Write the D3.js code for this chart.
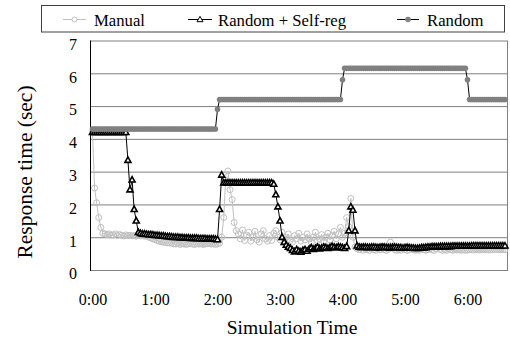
<!DOCTYPE html>
<html><head><meta charset="utf-8">
<script src="https://cdn.jsdelivr.net/npm/d3@7/dist/d3.min.js"></script>
<style>
html,body{margin:0;padding:0;background:#fff;}
svg{display:block;}
text{font-family:"Liberation Serif","Times New Roman",serif;fill:#000;}
</style></head>
<body>
<svg id="chart" width="510" height="338"></svg>
<script>
// ---- data (one sample every 2 minutes of simulation time) ----
const sampleMinutes = 2;
const seriesNames = ["Manual", "Random + Self-reg", "Random"];
const xTickMinutes = [0, 60, 120, 180, 240, 300, 360];
const xTickLabels = ["0:00", "1:00", "2:00", "3:00", "4:00", "5:00", "6:00"];
const yTicks = [0, 1, 2, 3, 4, 5, 6, 7];

const manual = [
  4.2, 2.5, 2.05, 1.6, 1.3, 1.12,
  1.1, 1.08, 1.1, 1.06, 1.07, 1.1, 1.05, 1.08, 1.06, 1.04, 1.07, 1.05, 1.06, 1.04, 1.05, 1.03, 1.06, 1.04, 1.05, 1.03, 1.04,
  1.0, 0.98, 0.95, 0.93, 0.9, 0.88, 0.86, 0.85, 0.84, 0.83, 0.82,
  0.82, 0.8, 0.79, 0.81, 0.78, 0.8, 0.79, 0.78, 0.8, 0.81, 0.79, 0.78, 0.8, 0.79, 0.8, 0.78, 0.79, 0.8, 0.81, 0.79, 0.8, 0.78, 0.8, 0.82,
  1.0, 1.6, 2.9, 3.02, 2.45, 2.15, 1.45, 1.2,
  1.1, 0.95, 1.22, 0.9, 1.05, 1.15, 0.88, 1.0, 1.18, 0.92,
  0.85, 1.1, 1.2, 0.95, 0.88, 1.05, 0.9, 1.12, 1.2, 1.0,
  0.92, 1.15, 0.95, 1.0, 1.1, 0.9, 0.85, 1.05, 0.95, 1.12,
  0.88, 1.0, 0.92, 1.1, 0.95, 0.85, 1.0, 1.15, 0.9, 0.95,
  1.08, 0.88, 1.0, 1.12, 0.92, 1.05, 1.18, 0.95, 1.1,
  1.3, 1.0, 1.12, 1.6, 1.32, 2.18, 1.0, 0.7,
  0.65, 0.62, 0.7, 0.6, 0.63, 0.62, 0.6, 0.66, 0.62, 0.6,
  0.65, 0.62, 0.72, 0.62, 0.6, 0.63, 0.85, 0.7, 0.62, 0.6,
  0.62, 0.6, 0.64, 0.62, 0.6, 0.62, 0.7, 0.62, 0.6, 0.62,
  0.6, 0.65, 0.62, 0.6, 0.62, 0.66, 0.62, 0.6, 0.65, 0.7,
  0.63, 0.6, 0.62, 0.6, 0.64, 0.62, 0.6, 0.62, 0.61, 0.62,
  0.6, 0.62, 0.6, 0.61, 0.62, 0.62, 0.61, 0.62, 0.62, 0.61,
  0.62, 0.62, 0.62, 0.61, 0.62, 0.62, 0.62, 0.62, 0.62, 0.62,
  0.62, 0.62
];

const randomSelfReg = [
  4.2, 4.2, 4.2, 4.2, 4.2, 4.2, 4.2, 4.2, 4.2, 4.2, 4.2, 4.2, 4.2, 4.2, 4.2, 4.2, 4.2,
  3.35, 2.45, 2.75, 1.85, 1.5, 1.15,
  1.12, 1.1, 1.1, 1.09, 1.08, 1.08, 1.07, 1.06, 1.06, 1.05, 1.04, 1.04, 1.03, 1.02, 1.02, 1.01, 1.0, 1.0, 1.0,
  0.99, 0.99, 0.98, 0.98, 0.98, 0.97, 0.97, 0.97, 0.97, 0.96, 0.96, 0.96, 0.96, 0.95, 0.95, 0.95, 0.95, 0.94,
  0.93, 1.85, 2.9,
  2.66, 2.66, 2.66, 2.66, 2.66, 2.66, 2.66, 2.66, 2.66, 2.66, 2.66, 2.66,
  2.66, 2.66, 2.66, 2.66, 2.66, 2.66, 2.66, 2.66, 2.66, 2.66, 2.66, 2.66,
  2.62, 2.3, 1.93, 1.5, 1.0, 0.85, 0.76, 0.7, 0.66, 0.6, 0.56, 0.62, 0.58, 0.55, 0.6,
  0.62, 0.58, 0.64, 0.68, 0.63, 0.66, 0.7, 0.65, 0.67, 0.7, 0.68, 0.66, 0.69, 0.72, 0.7, 0.68, 0.71, 0.7,
  0.68, 0.66, 0.72, 1.2, 1.93, 1.83, 1.2, 0.74,
  0.7, 0.69, 0.7, 0.7, 0.69, 0.69, 0.7, 0.7, 0.69, 0.68, 0.69, 0.7, 0.7, 0.69, 0.68, 0.68, 0.69, 0.7, 0.69,
  0.68, 0.68, 0.67, 0.68, 0.69, 0.68, 0.67, 0.67, 0.66, 0.66, 0.67, 0.68, 0.68, 0.69, 0.7, 0.7, 0.71, 0.71, 0.71,
  0.71, 0.72, 0.72, 0.72, 0.72, 0.72, 0.72, 0.73, 0.73, 0.73, 0.73, 0.73, 0.73, 0.73, 0.73, 0.73,
  0.74, 0.74, 0.74, 0.74, 0.74, 0.74, 0.74, 0.74, 0.74, 0.74, 0.74, 0.74, 0.74, 0.74, 0.74, 0.74, 0.74
];

const random = [
  4.3, 4.3, 4.3, 4.3, 4.3, 4.3, 4.3, 4.3, 4.3, 4.3, 4.3, 4.3, 4.3, 4.3, 4.3, 4.3, 4.3, 4.3, 4.3, 4.3,
  4.3, 4.3, 4.3, 4.3, 4.3, 4.3, 4.3, 4.3, 4.3, 4.3, 4.3, 4.3, 4.3, 4.3, 4.3, 4.3, 4.3, 4.3, 4.3, 4.3,
  4.3, 4.3, 4.3, 4.3, 4.3, 4.3, 4.3, 4.3, 4.3, 4.3, 4.3, 4.3, 4.3, 4.3, 4.3, 4.3, 4.3, 4.3, 4.3, 4.3,
  4.9,
  5.2, 5.2, 5.2, 5.2, 5.2, 5.2, 5.2, 5.2, 5.2, 5.2, 5.2, 5.2, 5.2, 5.2, 5.2, 5.2, 5.2, 5.2, 5.2, 5.2,
  5.2, 5.2, 5.2, 5.2, 5.2, 5.2, 5.2, 5.2, 5.2, 5.2, 5.2, 5.2, 5.2, 5.2, 5.2, 5.2, 5.2, 5.2, 5.2, 5.2,
  5.2, 5.2, 5.2, 5.2, 5.2, 5.2, 5.2, 5.2, 5.2, 5.2, 5.2, 5.2, 5.2, 5.2, 5.2, 5.2, 5.2, 5.2, 5.2,
  5.8,
  6.15, 6.15, 6.15, 6.15, 6.15, 6.15, 6.15, 6.15, 6.15, 6.15, 6.15, 6.15, 6.15, 6.15, 6.15, 6.15, 6.15, 6.15, 6.15, 6.15,
  6.15, 6.15, 6.15, 6.15, 6.15, 6.15, 6.15, 6.15, 6.15, 6.15, 6.15, 6.15, 6.15, 6.15, 6.15, 6.15, 6.15, 6.15, 6.15, 6.15,
  6.15, 6.15, 6.15, 6.15, 6.15, 6.15, 6.15, 6.15, 6.15, 6.15, 6.15, 6.15, 6.15, 6.15, 6.15, 6.15, 6.15, 6.15, 6.15,
  5.8,
  5.2, 5.2, 5.2, 5.2, 5.2, 5.2, 5.2, 5.2, 5.2, 5.2, 5.2, 5.2, 5.2, 5.2, 5.2, 5.2, 5.2, 5.2
];

// ---- layout ----
const svg = d3.select("#chart");
const plot = {left: 90, right: 508, top: 40.5, bottom: 270};
const x = d3.scaleLinear().domain([0, (random.length - 1) * sampleMinutes]).range([92.5, 505]);
const y = d3.scaleLinear().domain([0, 7]).range([plot.bottom, plot.top]);

// gridlines
svg.append("g").selectAll("line").data(yTicks.filter(d => d > 0 && d < 7)).join("line")
  .attr("x1", plot.left).attr("x2", plot.right)
  .attr("y1", d => y(d) + 0.5).attr("y2", d => y(d) + 0.5)
  .attr("stroke", "#808080").attr("stroke-width", 1);

// plot border
svg.append("rect").attr("x", plot.left + 0.5).attr("y", y(7) + 0.5)
  .attr("width", plot.right - plot.left - 1).attr("height", y(0) - y(7))
  .attr("fill", "none").attr("stroke", "#808080");
svg.append("line").attr("x1", plot.left + 0.5).attr("x2", plot.left + 0.5)
  .attr("y1", y(7)).attr("y2", y(0) + 1).attr("stroke", "#000");

// axes
const yAxis = svg.append("g").attr("transform", `translate(${plot.left},0)`)
  .call(d3.axisLeft(y).tickValues(yTicks).tickSize(0).tickPadding(13).tickFormat(d3.format("d")));
yAxis.select(".domain").remove();
yAxis.attr("font-family", null);
yAxis.selectAll("text").attr("font-size", 16).attr("dy", "0.55em");

const xAxis = svg.append("g").attr("transform", `translate(0,${plot.bottom})`)
  .call(d3.axisBottom(x).tickValues(xTickMinutes).tickSize(0).tickPadding(24)
    .tickFormat((d, i) => xTickLabels[i]));
xAxis.select(".domain").remove();
xAxis.attr("font-family", null);
xAxis.selectAll("text").attr("font-size", 16);

svg.append("text").attr("x", 292).attr("y", 334).attr("text-anchor", "middle")
  .attr("font-size", 19.5).text("Simulation Time");
svg.append("text").attr("transform", "translate(32,172) rotate(-90)").attr("text-anchor", "middle")
  .attr("font-size", 21.5).text("Response time (sec)");

// series
const toPts = arr => arr.map((v, i) => [i * sampleMinutes, v]);
const line = d3.line().x(d => x(d[0])).y(d => y(d[1]));
const triPath = "M0,-3.2 L3,2.2 L-3,2.2 Z";

// Manual
const gM = svg.append("g");
gM.append("path").attr("d", line(toPts(manual))).attr("fill", "none").attr("stroke", "#c0c0c0").attr("stroke-width", 1);
gM.selectAll("circle").data(toPts(manual)).join("circle")
  .attr("cx", d => x(d[0])).attr("cy", d => y(d[1])).attr("r", 3)
  .attr("fill", "none").attr("stroke", "#c0c0c0").attr("stroke-width", 1);

// Random + Self-reg
const gS = svg.append("g");
gS.append("path").attr("d", line(toPts(randomSelfReg))).attr("fill", "none").attr("stroke", "#000").attr("stroke-width", 1);
gS.selectAll("path.m").data(toPts(randomSelfReg)).join("path").attr("class", "m")
  .attr("d", triPath).attr("transform", d => `translate(${x(d[0])},${y(d[1])})`)
  .attr("fill", "#fff").attr("stroke", "#000").attr("stroke-width", 1.6);

// Random
const gR = svg.append("g");
gR.append("path").attr("d", line(toPts(random))).attr("fill", "none").attr("stroke", "#000").attr("stroke-width", 1);
gR.selectAll("circle").data(toPts(random)).join("circle")
  .attr("cx", d => x(d[0])).attr("cy", d => y(d[1])).attr("r", 2.8)
  .attr("fill", "#808080").attr("stroke", "none");

// legend
const lg = svg.append("g");
lg.append("rect").attr("x", 41.5).attr("y", 5.5).attr("width", 463).attr("height", 26.5)
  .attr("fill", "#fff").attr("stroke", "#404040");
const legendItems = [
  {name: seriesNames[0], x0: 63, x1: 86, tx: 94},
  {name: seriesNames[1], x0: 188, x1: 212, tx: 218},
  {name: seriesNames[2], x0: 397, x1: 419, tx: 427}
];
const ly = 19.5;
legendItems.forEach((it, k) => {
  const cx = (it.x0 + it.x1) / 2;
  if (k === 0) {
    lg.append("line").attr("x1", it.x0).attr("x2", it.x1).attr("y1", ly).attr("y2", ly).attr("stroke", "#c0c0c0");
    lg.append("circle").attr("cx", cx).attr("cy", ly).attr("r", 2.5).attr("fill", "#fff").attr("stroke", "#c0c0c0");
  } else if (k === 1) {
    lg.append("line").attr("x1", it.x0).attr("x2", it.x1).attr("y1", ly).attr("y2", ly).attr("stroke", "#000");
    lg.append("path").attr("d", triPath).attr("transform", `translate(${cx},${ly})`).attr("fill", "#fff").attr("stroke", "#000");
  } else {
    lg.append("line").attr("x1", it.x0).attr("x2", it.x1).attr("y1", ly).attr("y2", ly).attr("stroke", "#000");
    lg.append("circle").attr("cx", cx).attr("cy", ly).attr("r", 2.8).attr("fill", "#808080");
  }
  lg.append("text").attr("x", it.tx).attr("y", 26).attr("font-size", 16.7).text(it.name);
});
</script>
</body></html>
